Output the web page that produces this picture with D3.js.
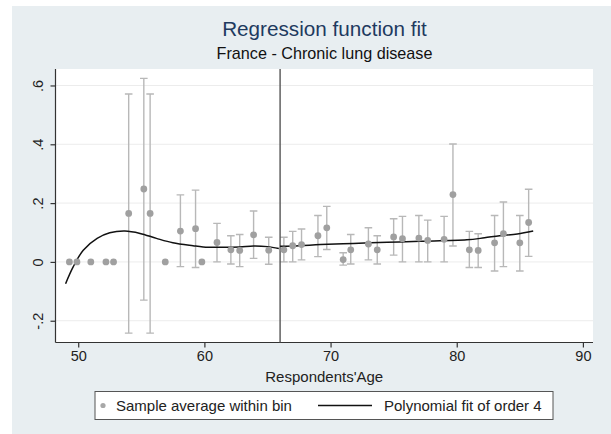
<!DOCTYPE html>
<html>
<head>
<meta charset="utf-8">
<script src="https://cdn.jsdelivr.net/npm/d3@7"></script>
<style>
  html, body { margin: 0; padding: 0; background: #ffffff; }
  svg { display: block; }
  text { font-family: "Liberation Sans", Arial, Helvetica, sans-serif; }
</style>
</head>
<body>
<svg id="chart" width="611" height="434"></svg>
<script>
// Binned sample averages (age bin centre, mean, 95% CI)
const binAge = [49.3, 49.9, 51.0, 52.2, 52.8, 54.0, 55.2, 55.7, 56.9, 58.1,
                59.3, 59.8, 61.0, 62.1, 62.8, 63.9, 65.1, 66.3, 67.0, 67.7,
                69.0, 69.7, 71.0, 71.6, 73.0, 73.7, 75.0, 75.7, 77.0, 77.7,
                79.0, 79.7, 81.0, 81.7, 83.0, 83.7, 85.0, 85.7];
const binMean = [0, 0, 0, 0, 0, 0.165, 0.248, 0.165, 0, 0.105,
                 0.113, 0, 0.066, 0.041, 0.039, 0.092, 0.040, 0.041, 0.055, 0.059,
                 0.089, 0.116, 0.008, 0.041, 0.061, 0.041, 0.085, 0.079, 0.081, 0.073,
                 0.077, 0.229, 0.041, 0.039, 0.065, 0.096, 0.065, 0.134];
const ciLow = [null, null, null, null, null, -0.242, -0.130, -0.242, null, -0.016,
               -0.019, null, 0, -0.007, -0.016, 0.012, -0.008, 0, 0, 0.007,
               0.018, 0.042, -0.011, -0.007, 0.007, -0.007, 0.023, 0, 0, 0,
               0, 0.054, -0.019, -0.019, -0.031, -0.016, -0.031, 0.019];
const ciHigh = [null, null, null, null, null, 0.571, 0.624, 0.571, null, 0.228,
                0.244, null, 0.131, 0.089, 0.093, 0.173, 0.084, 0.084, 0.104, 0.112,
                0.158, 0.189, 0.031, 0.093, 0.116, 0.089, 0.147, 0.155, 0.158, 0.142,
                0.155, 0.401, 0.104, 0.096, 0.158, 0.204, 0.158, 0.247];

// Fitted 4th-order polynomial, evaluated on each side of the cutoff
const cutoffAge = 66;
const leftFitAge = [49.0, 49.6, 50.4, 51.5, 52.5, 53.7, 54.9, 56.2, 57.5, 59.1,
                    59.9, 61.5, 62.8, 63.9, 65.0, 65.9];
const leftFitVal = [-0.074, -0.017, 0.040, 0.080, 0.099, 0.105, 0.097, 0.080, 0.065, 0.055,
                    0.051, 0.050, 0.051, 0.054, 0.052, 0.046];
const rightFitAge = [66.0, 67.5, 69.2, 71.8, 74.5, 77.1, 80.8, 82.2, 83.4, 84.8, 86.06];
const rightFitVal = [0.053, 0.055, 0.059, 0.063, 0.067, 0.070, 0.075, 0.082, 0.089, 0.095, 0.105];

const xTicks = [50, 60, 70, 80, 90];
const yTicks = [-0.2, 0, 0.2, 0.4, 0.6];
const yTickLabels = ["-.2", "0", ".2", ".4", ".6"];

const titleText = "Regression function fit";
const subtitleText = "France - Chronic lung disease";
const xTitle = "Respondents'Age";
const legendLabels = ["Sample average within bin", "Polynomial fit of order 4"];

// ---- layout ----
const svg = d3.select("#chart");
const W = 611, H = 434;
const plot = { left: 55.5, right: 593, top: 69, bottom: 342.5 };

const x = d3.scaleLinear().domain([48.2, 90.8]).range([plot.left, plot.right]);
const y = d3.scaleLinear().domain([-0.274, 0.656]).range([plot.bottom, plot.top]);

// graph background
svg.append("rect").attr("x", 12).attr("y", 6).attr("width", W - 12).attr("height", H - 6)
  .attr("fill", "#e8eef1");
// plot region
svg.append("rect").attr("x", plot.left).attr("y", plot.top)
  .attr("width", plot.right - plot.left).attr("height", plot.bottom - plot.top)
  .attr("fill", "#ffffff");

// horizontal grid lines
svg.append("g").selectAll("line").data(yTicks).join("line")
  .attr("x1", plot.left).attr("x2", plot.right)
  .attr("y1", d => y(d)).attr("y2", d => y(d))
  .attr("stroke", "#ececec").attr("stroke-width", 1);

// axes
const xAxis = d3.axisBottom(x).tickValues(xTicks).tickSize(5).tickPadding(3)
  .tickFormat(d3.format("d"));
const gx = svg.append("g").attr("transform", `translate(0,${plot.bottom})`).call(xAxis);
gx.select(".domain").attr("d", `M${plot.left},0H${plot.right}`);
gx.selectAll("path, line").attr("stroke", "#333").attr("stroke-width", 1.2);
gx.selectAll("text").attr("font-size", 14.5).attr("fill", "#222")
  .attr("font-family", "Liberation Sans, Arial, sans-serif");

const yAxis = d3.axisLeft(y).tickValues(yTicks).tickSize(5)
  .tickFormat((d, i) => yTickLabels[i]);
const gy = svg.append("g").attr("transform", `translate(${plot.left},0)`).call(yAxis);
gy.select(".domain").attr("d", `M0,${plot.top}V${plot.bottom}`);
gy.selectAll("path, line").attr("stroke", "#333").attr("stroke-width", 1.2);
gy.selectAll(".tick text")
  .attr("font-size", 14.5).attr("fill", "#222")
  .attr("font-family", "Liberation Sans, Arial, sans-serif")
  .attr("x", null).attr("dy", null)
  .attr("text-anchor", "middle")
  .attr("transform", "translate(-13,0) rotate(-90)")
  .attr("y", 0);

// error bars
const bins = binAge.map((a, i) => ({ age: a, mean: binMean[i], lo: ciLow[i], hi: ciHigh[i] }));
const withCI = bins.filter(d => d.lo !== null && d.hi !== null);
const cap = 3.8;
const eb = svg.append("g").attr("stroke", "#b8b8b8").attr("stroke-width", 1.4).attr("fill", "none");
eb.selectAll("path").data(withCI).join("path")
  .attr("d", d => {
    const cx = x(d.age), y0 = y(d.lo), y1 = y(d.hi);
    return `M${cx},${y0}V${y1}M${cx - cap},${y1}H${cx + cap}M${cx - cap},${y0}H${cx + cap}`;
  });

// cutoff line
svg.append("line").attr("x1", x(cutoffAge)).attr("x2", x(cutoffAge))
  .attr("y1", plot.top).attr("y2", plot.bottom)
  .attr("stroke", "#555555").attr("stroke-width", 1.4);

// fitted curves
const line = d3.line().x(d => x(d[0])).y(d => y(d[1])).curve(d3.curveCatmullRom);
const fitG = svg.append("g").attr("fill", "none").attr("stroke", "#111").attr("stroke-width", 1.5);
fitG.append("path").attr("d", line(leftFitAge.map((a, i) => [a, leftFitVal[i]])));
fitG.append("path").attr("d", line(rightFitAge.map((a, i) => [a, rightFitVal[i]])));

// bin averages
svg.append("g").selectAll("circle").data(bins).join("circle")
  .attr("cx", d => x(d.age)).attr("cy", d => y(d.mean)).attr("r", 3.4)
  .attr("fill", "#a0a0a0");

// titles
svg.append("text").attr("x", 324.5).attr("y", 36).attr("text-anchor", "middle")
  .attr("font-size", 20.7).attr("fill", "#1e3a5f").text(titleText);
svg.append("text").attr("x", 324.5).attr("y", 59).attr("text-anchor", "middle")
  .attr("font-size", 16.2).attr("fill", "#111").text(subtitleText);

// x axis title
svg.append("text").attr("x", (plot.left + plot.right) / 2).attr("y", 382)
  .attr("text-anchor", "middle").attr("font-size", 15).attr("fill", "#222").text(xTitle);

// legend
const lg = svg.append("g");
lg.append("rect").attr("x", 95).attr("y", 391.5).attr("width", 458).attr("height", 28)
  .attr("fill", "#ffffff").attr("stroke", "#555").attr("stroke-width", 1);
lg.append("circle").attr("cx", 103).attr("cy", 405.5).attr("r", 2.6).attr("fill", "#a8a8a8");
lg.append("text").attr("x", 116).attr("y", 411).attr("font-size", 15).attr("fill", "#222")
  .text(legendLabels[0]);
lg.append("line").attr("x1", 318).attr("x2", 372).attr("y1", 405.5).attr("y2", 405.5)
  .attr("stroke", "#111").attr("stroke-width", 1.5);
lg.append("text").attr("x", 384).attr("y", 411).attr("font-size", 15).attr("fill", "#222")
  .text(legendLabels[1]);
</script>
</body>
</html>
